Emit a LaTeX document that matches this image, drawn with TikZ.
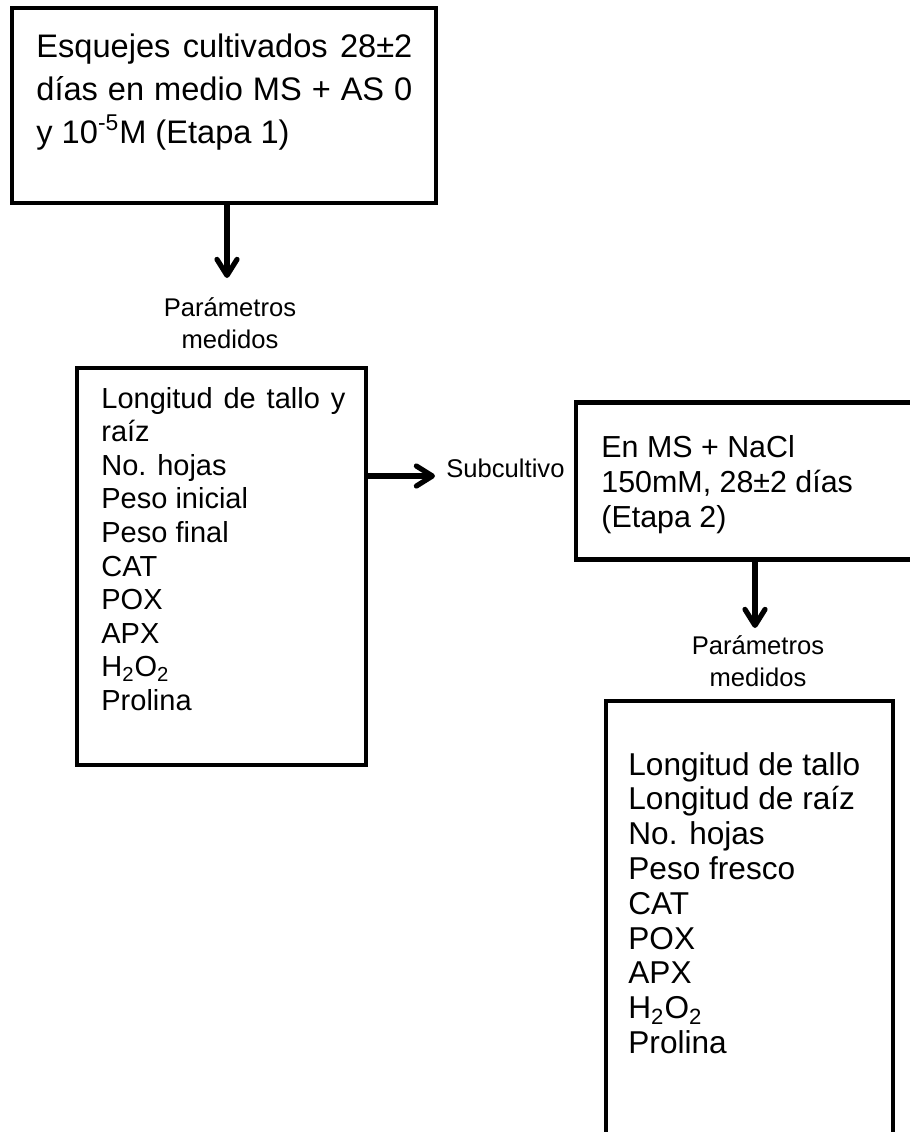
\documentclass[tikz,border=0pt]{standalone}
\usepackage{fontspec}
\setmainfont{Liberation Sans}
\usetikzlibrary{arrows.meta}
\tikzset{
  box/.style={draw, line width=2.4pt, inner sep=0pt},
  flow/.style={line width=2.6pt, -{Straight Barb[length=8pt,width=10pt,round]}},
  txt/.style={anchor=base west, inner sep=0pt},
  lbl/.style={anchor=base, inner sep=0pt}
}
\newcommand{\boxfont}[2]{\fontsize{#1}{#2}\selectfont}

\begin{document}
\begin{tikzpicture}[x=0.5pt,y=-0.5pt]
\clip (0,0) rectangle (910,1132);

% Etapa 1
\node[box, minimum width=212pt, minimum height=97.5pt] (etapa1) at (224,105.5) {};
\node[txt] (etapa1txt) at (36,57) {\parbox[t]{188pt}{\boxfont{16.3pt}{21.5pt}%
  \makebox[188pt][s]{Esquejes cultivados 28±2}\\
  \makebox[188pt][s]{días en medio MS + AS 0}\\
  y 10\textsuperscript{-5}M (Etapa 1)}};

% Parametros de la etapa 1
\node[lbl] (med1) at (230,316) {\parbox[t]{90pt}{\centering\boxfont{12.8pt}{16pt}Parámetros\\medidos}};
\node[box, minimum width=144.5pt, minimum height=198.5pt] (param1) at (221.5,566.5) {};
\node[txt] (param1txt) at (101,408) {\parbox[t]{135pt}{\boxfont{14.5pt}{16.8pt}%
  \makebox[122pt][s]{Longitud de tallo y}\\
  raíz\\
  No. hojas\\
  Peso inicial\\
  Peso final\\
  CAT\\
  POX\\
  APX\\
  H\textsubscript{2}O\textsubscript{2}\\
  Prolina}};

% Subcultivo
\node[txt] (subc) at (446,477) {\boxfont{12.8pt}{16pt}Subcultivo};

% Etapa 2
\node[box, minimum width=187pt, minimum height=78.25pt] (etapa2) at (763,481) {};
\node[txt] (etapa2txt) at (601,457) {\parbox[t]{150pt}{\boxfont{15.2pt}{17.5pt}%
  En MS + NaCl\\
  150mM, 28±2 días\\
  (Etapa 2)}};

% Parametros de la etapa 2
\node[lbl] (med2) at (758,654) {\parbox[t]{90pt}{\centering\boxfont{12.8pt}{16pt}Parámetros\\medidos}};
\node[box, minimum width=143.5pt, minimum height=249.5pt] (param2) at (749.5,950.5) {};
\node[txt] (param2txt) at (628,775) {\parbox[t]{140pt}{\boxfont{15.8pt}{17.4pt}%
  Longitud de tallo\\
  Longitud de raíz\\
  No. hojas\\
  Peso fresco\\
  CAT\\
  POX\\
  APX\\
  H\textsubscript{2}O\textsubscript{2}\\
  Prolina}};

% Flechas
\coordinate (tip1) at (227,278);
\draw[flow] (etapa1.south -| tip1) -- (tip1);
\coordinate (subtip) at (435,476);
\draw[flow] (param1.east |- subtip) -- (subtip);
\coordinate (tip2) at (755,628);
\draw[flow] (etapa2.south -| tip2) -- (tip2);
\end{tikzpicture}
\end{document}
